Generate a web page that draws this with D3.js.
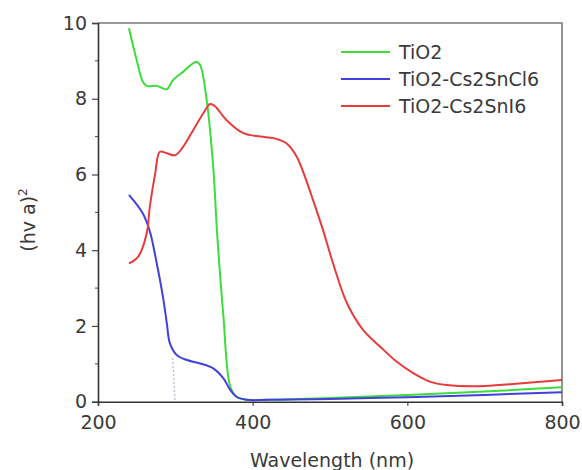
<!DOCTYPE html>
<html>
<head>
<meta charset="utf-8">
<script src="https://cdn.jsdelivr.net/npm/d3@7"></script>
<style>
  body { margin: 0; background: #fff; }
  text { font-family: "DejaVu Sans", sans-serif; fill: #3a3a3a; }
</style>
</head>
<body>
<div id="chart"></div>
<script>
// Tauc plot, three samples

var seriesNames = ["TiO2", "TiO2-Cs2SnCl6", "TiO2-Cs2SnI6"];
var seriesColors = ["#3ddc3d", "#4040dc", "#e63c3c"];

var tio2X = [240, 250, 258, 263, 276, 289, 297, 310, 327, 332, 340, 349, 354, 362, 371, 379, 390, 420, 500, 600, 700, 800];
var tio2Y = [9.86, 9.02, 8.45, 8.34, 8.34, 8.25, 8.49, 8.71, 8.98, 8.89, 8.05, 6.2, 4.45, 2.3, 0.4, 0.13, 0.06, 0.05, 0.1, 0.18, 0.27, 0.38];

var snclX = [240, 258, 267, 276, 284, 289, 293, 302, 315, 332, 349, 362, 371, 379, 392, 420, 500, 600, 700, 800];
var snclY = [5.46, 4.97, 4.5, 3.65, 2.77, 2.07, 1.54, 1.23, 1.1, 1.01, 0.88, 0.62, 0.31, 0.13, 0.05, 0.05, 0.07, 0.12, 0.18, 0.25];

var snix = [240, 252, 263, 267, 274, 280, 289, 300, 310, 323, 336, 345, 351, 366, 388, 410, 427, 444, 457, 466, 478, 491, 504, 522, 543, 565, 586, 608, 629, 651, 694, 737, 800];
var sniY = [3.65, 3.83, 4.45, 5.15, 6.03, 6.6, 6.56, 6.51, 6.73, 7.17, 7.61, 7.86, 7.81, 7.44, 7.09, 7.0, 6.96, 6.82, 6.47, 6.03, 5.33, 4.53, 3.65, 2.6, 1.89, 1.45, 1.06, 0.75, 0.53, 0.44, 0.41, 0.47, 0.57];

// dotted extrapolation to the baseline
var tangentX = [296.5, 299.6];
var tangentY = [1.15, 0];

var xTicks = [200, 400, 600, 800];
var yTicks = [0, 2, 4, 6, 8, 10];
var yMinorTicks = [1, 3, 5, 7, 9];

var width = 582,
    height = 470,
    margin = {left: 98, top: 23, right: 20, bottom: 68};

var svg = d3.select("#chart").append("svg")
  .attr("width", width)
  .attr("height", height);

var x = d3.scaleLinear().domain([200, 800]).range([margin.left, width - margin.right]);
var y = d3.scaleLinear().domain([0, 10]).range([height - margin.bottom - 0.3, margin.top]);

function zip(xs, ys) {
  return xs.map(function(d, i) { return {x: d, y: ys[i]}; });
}

var series = [zip(tio2X, tio2Y), zip(snclX, snclY), zip(snix, sniY)];

// frame (top / right)
svg.append("path")
  .attr("d", "M" + x(200) + "," + y(10) + "H" + x(800) + "V" + y(0))
  .attr("fill", "none")
  .attr("stroke", "#7a7a7a")
  .attr("stroke-width", 1.6);

var line = d3.line()
  .x(function(d) { return x(d.x); })
  .y(function(d) { return y(d.y); })
  .curve(d3.curveCatmullRom.alpha(0.5));

svg.append("path")
  .attr("d", d3.line().x(function(d) { return x(d.x); }).y(function(d) { return y(d.y); })(zip(tangentX, tangentY)))
  .attr("fill", "none")
  .attr("stroke", "#b8b8d0")
  .attr("stroke-width", 1.2)
  .attr("stroke-dasharray", "2,2");

svg.selectAll(".curve").data(series)
  .enter().append("path")
  .attr("class", "curve")
  .attr("d", line)
  .attr("fill", "none")
  .attr("stroke", function(d, i) { return seriesColors[i]; })
  .attr("stroke-width", 2);

// axes
var xAxis = d3.axisBottom(x).tickValues(xTicks).tickSize(4).tickPadding(10);
var yAxis = d3.axisLeft(y).tickValues(yTicks).tickSize(6).tickPadding(5);

var gx = svg.append("g")
  .attr("transform", "translate(0," + y(0) + ")")
  .call(xAxis);
var gy = svg.append("g")
  .attr("transform", "translate(" + x(200) + ",0)")
  .call(yAxis);

gy.selectAll(".tickm").data(yMinorTicks)
  .enter().append("line")
  .attr("class", "tickm")
  .attr("x1", -3).attr("x2", 0)
  .attr("y1", function(d) { return y(d); })
  .attr("y2", function(d) { return y(d); })
  .attr("stroke", "#444");

[gx, gy].forEach(function(g) {
  g.select(".domain").attr("stroke", "#333").attr("stroke-width", 1.6);
  g.selectAll(".tick line").attr("stroke", "#444").attr("stroke-width", 1.2);
  g.selectAll(".tick text")
    .style("font-family", "DejaVu Sans, sans-serif")
    .style("font-size", "19px")
    .attr("fill", "#3a3a3a");
});

// axis titles
svg.append("text")
  .attr("x", x(500) + 2)
  .attr("y", 467)
  .attr("text-anchor", "middle")
  .style("font-size", "19px")
  .text("Wavelength (nm)");

var yl = svg.append("text")
  .attr("transform", "translate(35,220) rotate(-90)")
  .attr("text-anchor", "middle")
  .style("font-size", "19px");
yl.append("tspan").text("(hv a)");
yl.append("tspan").attr("dy", -8).style("font-size", "12px").text("2");

// legend
var legend = svg.selectAll(".legend").data(seriesNames)
  .enter().append("g")
  .attr("class", "legend")
  .attr("transform", function(d, i) { return "translate(341," + (52 + i * 27) + ")"; });

legend.append("line")
  .attr("x1", 0).attr("x2", 49)
  .attr("stroke", function(d, i) { return seriesColors[i]; })
  .attr("stroke-width", 2);

legend.append("text")
  .attr("x", 58)
  .attr("y", 7)
  .style("font-size", "19px")
  .text(function(d) { return d; });
</script>
</body>
</html>
